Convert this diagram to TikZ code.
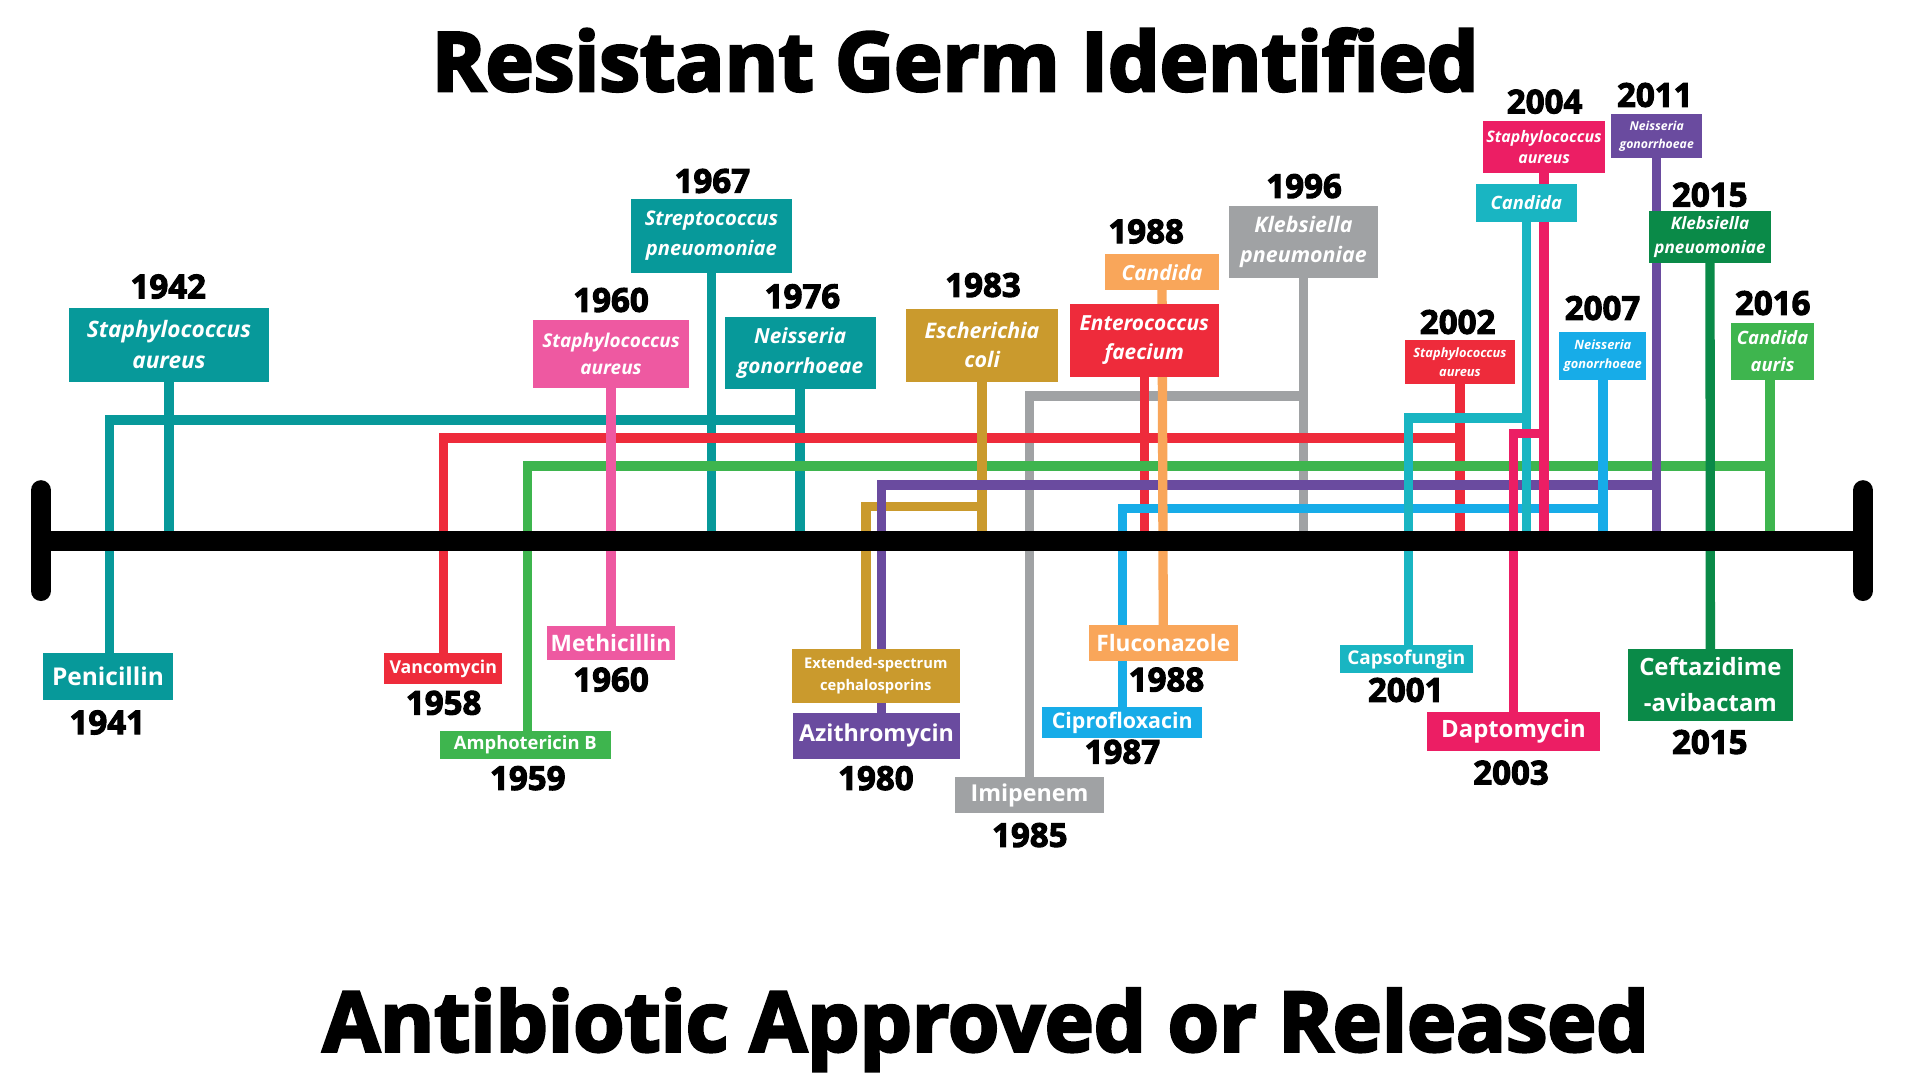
\documentclass[tikz,border=0pt]{standalone}
\usepackage{fontspec}
\setmainfont{Open Sans}
\newfontfamily\heavyfont{Open Sans}[FakeBold=3]
\newfontfamily\titleheavyfont{Open Sans}[FakeBold=3.5]
\newcommand\germfont[2]{\fontsize{#1}{#2}\selectfont\bfseries\itshape}
\newcommand\drugfont[2]{\fontsize{#1}{#2}\selectfont\bfseries}
\newcommand\yearfont{\heavyfont\bfseries\fontsize{27}{30}\selectfont}
\definecolor{cteal}{HTML}{07999A}
\definecolor{cred}{HTML}{EE2B3B}
\definecolor{cgreen}{HTML}{3EB54E}
\definecolor{cpink}{HTML}{EE59A1}
\definecolor{cgold}{HTML}{CA9A2D}
\definecolor{cpurple}{HTML}{6A4B9F}
\definecolor{cgrey}{HTML}{A0A2A4}
\definecolor{corange}{HTML}{F9A65A}
\definecolor{cblue}{HTML}{17ACE8}
\definecolor{ccyan}{HTML}{19B5C2}
\definecolor{cmag}{HTML}{EC1E64}
\definecolor{cdgreen}{HTML}{0A8A48}
\pgfdeclarelayer{bgfill}
\pgfdeclarelayer{lines}
\pgfsetlayers{bgfill,lines,main}
\begin{document}
\begin{tikzpicture}[x=1pt,y=-1pt,
  conn/.style={line width=7.6pt, line cap=rect, line join=miter, draw=#1},
  gbox/.style={fill=#1, text=white, inner sep=0pt, align=center},
  yr/.style={inner sep=0pt, font=\yearfont},
  ttl/.style={inner sep=0pt, font=\titleheavyfont\bfseries\fontsize{70}{80}\selectfont}]
\begin{pgfonlayer}{bgfill}
\fill[white] (0,0) rectangle (1568,882);
\end{pgfonlayer}
\useasboundingbox (0,0) rectangle (1568,882);

% titles
\node[ttl] (title) at (780,49) {\resizebox{855pt}{!}{Resistant Germ Identified}};
\node[ttl] (subtitle) at (805,841) {\resizebox{1083pt}{!}{Antibiotic Approved or Released}};

% axis coordinates
\coordinate (axL) at (33.4,441.5);
\coordinate (axR) at (1521.5,441.5);

% resistant germ boxes (top)
\node[gbox=cteal, minimum width=164pt, minimum height=60pt, font=\germfont{18.5}{25.3}] (g1942) at (138,281.7) {Staphylococcus\\aureus};
\node[gbox=cpink, minimum width=128pt, minimum height=56pt, font=\germfont{15.5}{22}] (g1960) at (499,289) {Staphylococcus\\aureus};
\node[gbox=cteal, minimum width=132pt, minimum height=60.5pt, font=\germfont{16.5}{24}] (g1967) at (581,192.5) {Streptococcus\\pneuomoniae};
\node[gbox=cteal, minimum width=123.3pt, minimum height=59.4pt, font=\germfont{17}{24}] (g1976) at (653.4,288.3) {Neisseria\\gonorrhoeae};
\node[gbox=cgold, minimum width=124pt, minimum height=59.7pt, font=\germfont{17.5}{23.7}] (g1983) at (802,282) {Escherichia\\coli};
\node[gbox=corange, minimum width=93pt, minimum height=29.5pt, font=\germfont{17}{20}] (g1988c) at (949,222.3) {Candida};
\node[gbox=cred, minimum width=122pt, minimum height=60pt, font=\germfont{17}{23.7}] (g1988e) at (934.5,278) {Enterococcus\\faecium};
\node[gbox=cgrey, minimum width=121pt, minimum height=59pt, font=\germfont{17.5}{24}] (g1996) at (1064.5,197.5) {Klebsiella\\pneumoniae};
\node[gbox=cred, minimum width=90.5pt, minimum height=36pt, font=\germfont{10.5}{15.5}] (g2002) at (1192.3,296) {Staphylococcus\\aureus};
\node[gbox=cmag, minimum width=100pt, minimum height=42.5pt, font=\germfont{13}{17.4}] (g2004s) at (1261,120) {Staphylococcus\\aureus};
\node[gbox=ccyan, minimum width=82.5pt, minimum height=31pt, font=\germfont{15}{18}] (g2004c) at (1246.5,165.5) {Candida};
\node[gbox=cblue, minimum width=71pt, minimum height=39pt, font=\germfont{10.5}{15.8}] (g2007) at (1309,290.5) {Neisseria\\gonorrhoeae};
\node[gbox=cpurple, minimum width=74pt, minimum height=36pt, font=\germfont{10}{14.7}] (g2011) at (1353,111) {Neisseria\\gonorrhoeae};
\node[gbox=cdgreen, minimum width=99pt, minimum height=43pt, font=\germfont{14}{19.9}] (g2015) at (1396.5,193.5) {Klebsiella\\pneuomoniae};
\node[gbox=cgreen, minimum width=68pt, minimum height=46pt, font=\germfont{15}{21.8}] (g2016) at (1447.6,287) {Candida\\auris};

% top years
\node[yr] (t1942) at (137.4,234) {1942};
\node[yr] (t1960) at (499,245) {1960};
\node[yr] (t1967) at (581.7,147.8) {1967};
\node[yr] (t1976) at (655.3,242) {1976};
\node[yr] (t1983) at (802.8,232.8) {1983};
\node[yr] (t1988) at (936,189) {1988};
\node[yr] (t1996) at (1065,152) {1996};
\node[yr] (t2002) at (1190.4,263) {2002};
\node[yr] (t2004) at (1261.4,83) {2004};
\node[yr] (t2007) at (1308.7,251.6) {2007};
\node[yr] (t2011) at (1351.4,77.6) {2011};
\node[yr] (t2015) at (1396.3,159) {2015};
\node[yr] (t2016) at (1447.7,247.5) {2016};

% antibiotic boxes (bottom)
\node[gbox=cteal, minimum width=106.4pt, minimum height=38.5pt, font=\drugfont{20}{24}] (pen) at (88.2,552.7) {Penicillin};
\node[gbox=cred, minimum width=96pt, minimum height=25pt, font=\drugfont{14.5}{17}] (van) at (362,546) {Vancomycin};
\node[gbox=cgreen, minimum width=140pt, minimum height=22.6pt, font=\drugfont{15}{18}] (amp) at (429,608.3) {Amphotericin B};
\node[gbox=cpink, minimum width=104pt, minimum height=28pt, font=\drugfont{18.5}{22}] (met) at (499,525) {Methicillin};
\node[gbox=cgold, minimum width=137pt, minimum height=44pt, font=\drugfont{12}{17.7}] (ext) at (715.2,552) {Extended-spectrum\\cephalosporins};
\node[gbox=cpurple, minimum width=135.7pt, minimum height=37.6pt, font=\drugfont{19}{22}] (azi) at (715.8,600.8) {Azithromycin};
\node[gbox=cgrey, minimum width=121.6pt, minimum height=29.4pt, font=\drugfont{19}{22}] (imi) at (840.8,649.3) {Imipenem};
\node[gbox=corange, minimum width=122pt, minimum height=29.4pt, font=\drugfont{18.5}{22}] (flu) at (950,525.3) {Fluconazole};
\node[gbox=cblue, minimum width=131pt, minimum height=26pt, font=\drugfont{17.5}{21}] (cip) at (916.5,590) {Ciprofloxacin};
\node[gbox=ccyan, minimum width=109pt, minimum height=23pt, font=\drugfont{15.5}{18}] (cap) at (1148.5,538.5) {Capsofungin};
\node[gbox=cmag, minimum width=141.3pt, minimum height=31.5pt, font=\drugfont{19.5}{23}] (dap) at (1236,597.3) {Daptomycin};
\node[gbox=cdgreen, minimum width=134.5pt, minimum height=58.6pt, font=\drugfont{19.5}{29.3}] (cef) at (1396.8,559.3) {Ceftazidime\\-avibactam};

% bottom years
\node[yr] (b1941) at (87.6,590) {1941};
\node[yr] (b1958) at (362.3,574) {1958};
\node[yr] (b1959) at (431,635.5) {1959};
\node[yr] (b1960) at (499,555) {1960};
\node[yr] (b1980) at (715.3,635.5) {1980};
\node[yr] (b1985) at (841,682) {1985};
\node[yr] (b1988) at (952.6,555) {1988};
\node[yr] (b1987) at (916.6,614) {1987};
\node[yr] (b2001) at (1148,563.5) {2001};
\node[yr] (b2003) at (1234,631) {2003};
\node[yr] (b2015) at (1396.3,606) {2015};

% level coordinates
\coordinate (tH) at (0,343);
\coordinate (rH) at (0,357.7);
\coordinate (grH) at (0,380.6);
\coordinate (pH) at (0,396);
\coordinate (oH) at (0,413.8);
\coordinate (bH) at (0,415);
\coordinate (gyH) at (0,323.5);
\coordinate (cH) at (0,341.3);
\coordinate (mH) at (0,354);

\begin{pgfonlayer}{lines}
% grey
\draw[conn=cgrey] (g1996.south) -- (g1996.south |- axL);
\draw[conn=cgrey] (imi.north) |- (g1996.south |- gyH);
% teal
\draw[conn=cteal] (g1942.south) -- (g1942.south |- axL);
\draw[conn=cteal] (g1967.south) -- (g1967.south |- axL);
\draw[conn=cteal] (g1976.south) -- (g1976.south |- axL);
\draw[conn=cteal] ([xshift=1pt]pen.north) |- (g1976.south |- tH);
% red
\draw[conn=cred] (g1988e.south) -- (g1988e.south |- axL);
\draw[conn=cred] (g2002.south) -- (g2002.south |- axL);
\draw[conn=cred] (van.north) |- (g2002.south |- rH);
% green
\draw[conn=cgreen] ([xshift=-2pt]g2016.south) -- ([xshift=-2pt]g2016.south |- axL);
\draw[conn=cgreen] ([xshift=2pt]amp.north) |- ([xshift=-2pt]g2016.south |- grH);
% gold
\draw[conn=cgold] (g1983.south) -- (g1983.south |- axL);
\draw[conn=cgold] ([xshift=-8pt]ext.north) |- (g1983.south |- oH);
% purple
\draw[conn=cpurple] (g2011.south) -- (g2011.south |- axL);
\draw[conn=cpurple] ([xshift=4.2pt]azi.north) |- (g2011.south |- pH);
% light blue
\draw[conn=cblue] (g2007.south) -- (g2007.south |- axL);
\draw[conn=cblue] (cip.north) |- (g2007.south |- bH);
% cyan
\draw[conn=ccyan] (g2004c.south) -- (g2004c.south |- axL);
\draw[conn=ccyan] ([xshift=1.5pt]cap.north) |- (g2004c.south |- cH);
% magenta
\draw[conn=cmag] (g2004s.south) -- (g2004s.south |- axL);
\draw[conn=cmag] (dap.north) |- (g2004s.south |- mH);
% orange
\draw[conn=corange] (g1988c.south) -- (flu.north);
% pink
\draw[conn=cpink] (g1960.south) -- (met.north);
% dark green
\draw[conn=cdgreen] (g2015.south) -- (cef.north);
% axis
\draw[line width=16.3pt] (axL) -- (axR);
\draw[line width=16.7pt, line cap=round] ([yshift=-41pt]axL) -- ([yshift=41pt]axL);
\draw[line width=16.7pt, line cap=round] ([yshift=-41pt]axR) -- ([yshift=41pt]axR);
\end{pgfonlayer}
\end{tikzpicture}
\end{document}
